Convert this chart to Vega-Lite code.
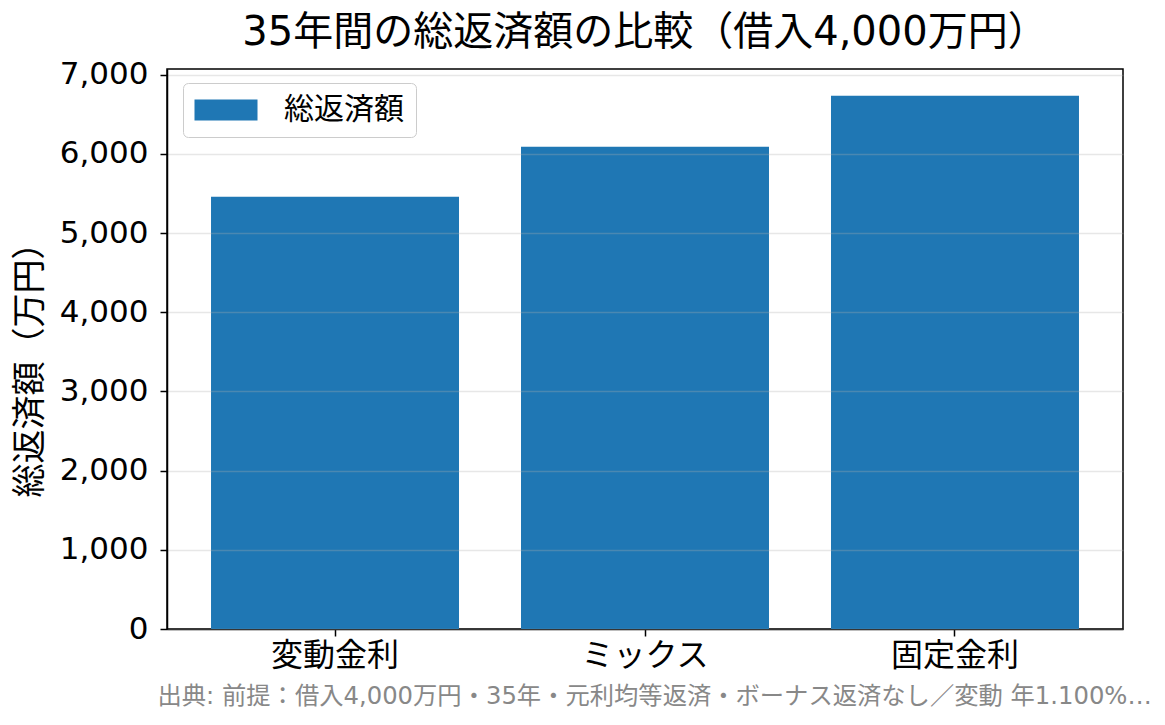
{
  "$schema": "https://vega.github.io/schema/vega-lite/v6.json",
  "description": "35年間の総返済額の比較",
  "autosize": "none",
  "width": 956,
  "height": 560,
  "padding": {"left": 167, "top": 69, "right": 42, "bottom": 96},
  "title": {
    "text": "35年間の総返済額の比較（借入4,000万円）",
    "fontSize": 40,
    "fontWeight": "normal",
    "color": "#000000",
    "frame": "group",
    "anchor": "middle",
    "baseline": "alphabetic",
    "offset": -26
  },
  "data": {
    "values": [
      {"plan": "変動金利", "total": 5461, "series": "総返済額"},
      {"plan": "ミックス", "total": 6092, "series": "総返済額"},
      {"plan": "固定金利", "total": 6736, "series": "総返済額"}
    ]
  },
  "mark": {"type": "bar"},
  "encoding": {
    "x": {
      "field": "plan",
      "type": "nominal",
      "sort": null,
      "scale": {"paddingInner": 0.2, "paddingOuter": 0.142},
      "axis": {
        "title": "出典: 前提：借入4,000万円・35年・元利均等返済・ボーナス返済なし／変動 年1.100%…",
        "titleFontSize": 24.3,
        "titleFontWeight": "normal",
        "titleColor": "#888888",
        "titleAlign": "left",
        "titleBaseline": "middle",
        "titleX": -10,
        "titleY": 67,
        "labelAngle": 0,
        "labelFontSize": 32,
        "labelColor": "#000000",
        "labelPadding": 4,
        "tickSize": 7,
        "tickWidth": 1.5,
        "tickColor": "#000000",
        "domainColor": "#000000",
        "domainWidth": 1.5,
        "grid": false
      }
    },
    "y": {
      "field": "total",
      "type": "quantitative",
      "scale": {"domain": [0, 7073], "nice": false, "zero": true},
      "axis": {
        "title": "総返済額（万円）",
        "titleFontSize": 34,
        "titleFontWeight": "normal",
        "titleColor": "#000000",
        "titleAngle": -90,
        "titleAlign": "center",
        "titleBaseline": "middle",
        "titleX": -137,
        "titleY": 292,
        "values": [0, 1000, 2000, 3000, 4000, 5000, 6000, 7000],
        "format": ",d",
        "labelFontSize": 31,
        "labelColor": "#000000",
        "labelPadding": 12,
        "tickSize": 7,
        "tickWidth": 1.5,
        "tickColor": "#000000",
        "domainColor": "#000000",
        "domainWidth": 1.5,
        "grid": true,
        "gridColor": "#b0b0b0",
        "gridOpacity": 0.3,
        "gridWidth": 1.5,
        "zindex": 1
      }
    },
    "color": {
      "field": "series",
      "type": "nominal",
      "scale": {"range": ["#1f77b4"]},
      "legend": {
        "title": null,
        "orient": "none",
        "legendX": 16,
        "legendY": 14,
        "padding": 12,
        "fillColor": "#ffffff",
        "strokeColor": "#cccccc",
        "cornerRadius": 5,
        "symbolType": "M-3,-1H3V1H-3Z",
        "symbolSize": 441,
        "symbolStrokeWidth": 0,
        "symbolOpacity": 1,
        "symbolOffset": 16,
        "labelOffset": 43,
        "labelFontSize": 30,
        "labelColor": "#000000"
      }
    }
  },
  "config": {
    "font": "DejaVu Sans, Noto Sans CJK JP",
    "view": {"stroke": "#000000", "strokeWidth": 1.5}
  }
}
